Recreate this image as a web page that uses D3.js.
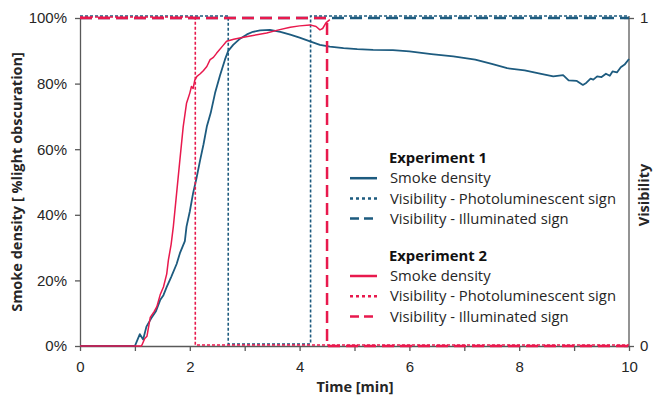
<!DOCTYPE html>
<html>
<head>
<meta charset="utf-8">
<script src="https://cdnjs.cloudflare.com/ajax/libs/d3/7.8.5/d3.min.js"></script>
<style>
  body { margin: 0; background: #fff; }
  svg { display: block; font-family: "Open Sans", "Noto Sans", sans-serif; }
</style>
</head>
<body>
<svg id="chart" width="654" height="401"></svg>
<script>
// ----- data -----
var smoke1_t = [0,1.0,1.05,1.09,1.15,1.21,1.3,1.38,1.46,1.52,1.58,1.66,1.76,1.82,1.91,1.94,2.0,2.06,2.12,2.19,2.25,2.31,2.38,2.46,2.55,2.64,2.7,2.79,2.9,3.04,3.15,3.28,3.46,3.65,3.83,4.0,4.19,4.37,4.55,4.8,5.05,5.34,5.7,6.0,6.4,6.8,7.2,7.5,7.78,8.1,8.4,8.62,8.8,8.9,9.05,9.16,9.22,9.3,9.35,9.42,9.5,9.58,9.65,9.7,9.78,9.85,9.92,10];
var smoke1_v = [0,0,2,3.6,2.0,5.9,8.5,10.5,14,15.5,18,21,25,28.3,32,36.4,41,46.6,51,56.8,61.5,66.9,71,77.1,82.5,87.3,90,91.8,93.5,95,95.8,96.2,96.4,95.8,94.9,94,92.9,91.8,91.3,90.8,90.5,90.3,90.2,89.8,89,88.3,87.3,86,84.7,84,83,82.2,82.6,81,80.8,79.6,80.2,81.5,81.2,82.2,82,83,82.4,83.7,83.4,85,85.8,87.5];

var smoke2_t = [0,1.12,1.18,1.22,1.28,1.35,1.4,1.46,1.52,1.58,1.61,1.66,1.7,1.76,1.82,1.88,1.94,1.97,2.0,2.03,2.06,2.09,2.13,2.19,2.25,2.31,2.37,2.43,2.49,2.6,2.67,2.8,2.91,3.1,3.4,3.6,3.83,4.0,4.19,4.3,4.37,4.42,4.48,4.55];
var smoke2_v = [0,0,2.3,3,8.7,10.5,12,15.6,18,22,26.2,31,36.4,46.6,56.8,66.9,74,75.5,77.1,79.1,78.5,81,82.2,83,84,85.2,87.3,88,89.3,91.5,92.9,93.5,93.9,94.5,95.4,96.3,97.2,97.6,97.9,97.4,96.4,96.8,98.5,99.5];

// visibility steps (0 = not visible, 1 = visible)
var vis1Photo_t = [0,2.7,2.7,4.2,4.2,10];
var vis1Photo_v = [1,1,0,0,1,1];
var vis1Illum_t = [0,10];
var vis1Illum_v = [1,1];
var vis2Photo_t = [0,2.1,2.1,10];
var vis2Photo_v = [1,1,0,0];
var vis2Illum_t = [0,4.5,4.5,10];
var vis2Illum_v = [1,1,0,0];

var xTicks = [0,1,2,3,4,5,6,7,8,9,10];
var xLabels = [0,2,4,6,8,10];
var yTicks = [0,20,40,60,80,100];

var blue = "#1d5b7f";
var red = "#e8194d";
var axisCol = "#595959";
var textCol = "#262626";

// ----- layout -----
var svg = d3.select("#chart");
var mLeft = 80, mRight = 629, mTop = 18, mBottom = 346;

var x = d3.scaleLinear().domain([0,10]).range([mLeft,mRight]);
var y = d3.scaleLinear().domain([0,100]).range([mBottom,mTop]);
var y2 = d3.scaleLinear().domain([0,1]).range([mBottom,mTop]);

function zip(t, v){ return t.map(function(d,i){ return [d, v[i]]; }); }

// ----- axes -----
var xAxis = svg.append("g").attr("transform","translate(0,"+mBottom+")")
  .call(d3.axisBottom(x).tickValues(xTicks).tickSize(5).tickFormat(function(d){ return xLabels.indexOf(d) >= 0 ? d : ""; }));
var yAxis = svg.append("g").attr("transform","translate("+mLeft+",0)")
  .call(d3.axisLeft(y).tickValues(yTicks).tickSize(5).tickFormat(function(d){ return d + "%"; }));
var y2Axis = svg.append("g").attr("transform","translate("+mRight+",0)")
  .call(d3.axisRight(y2).tickValues([0,1]).tickSize(5).tickFormat(d3.format("d")));

[xAxis, yAxis, y2Axis].forEach(function(g){
  g.select(".domain").attr("stroke", axisCol).attr("stroke-width", 1.3);
  g.selectAll(".tick line").attr("stroke", axisCol).attr("stroke-width", 1.3);
  g.selectAll("text").attr("fill", textCol).style("font-size","15px");
});
xAxis.select(".domain").attr("d","M"+mLeft+",0.5H"+mRight);
yAxis.select(".domain").attr("d","M0.5,"+mTop+"V"+mBottom);
y2Axis.select(".domain").attr("d","M0,16V"+mBottom);
y2Axis.selectAll(".tick line").attr("x1",-5);
xAxis.selectAll("text").attr("y",12).attr("dy","0.95em");
yAxis.selectAll("text").attr("x",-13);
y2Axis.selectAll("text").attr("x",11);

// ----- lines -----
var line = d3.line().x(function(d){ return x(d[0]); }).y(function(d){ return y(d[1]); });
var vline = d3.line().x(function(d){ return x(d[0]); }).y(function(d){ return y2(d[1]); });

var dotted = "3,2", dashed = "12,6";

function drawVis(t, v, col, dash, w, shift){
  svg.append("path").datum(zip(t,v)).attr("d", vline)
    .attr("transform","translate(0,"+shift+")")
    .attr("fill","none").attr("stroke",col).attr("stroke-width",w).attr("stroke-dasharray",dash);
}

drawVis(vis1Illum_t, vis1Illum_v, blue, dashed, 2.5, 0);
drawVis(vis1Photo_t, vis1Photo_v, blue, dotted, 1.6, -2);
svg.append("path").datum(zip(smoke1_t, smoke1_v)).attr("d", line)
  .attr("fill","none").attr("stroke",blue).attr("stroke-width",1.8).attr("stroke-linejoin","round");

drawVis(vis2Illum_t, vis2Illum_v, red, dashed, 2.5, 0);
drawVis(vis2Photo_t, vis2Photo_v, red, dotted, 1.6, -1);
svg.append("path").datum(zip(smoke2_t, smoke2_v)).attr("d", line)
  .attr("fill","none").attr("stroke",red).attr("stroke-width",1.5).attr("stroke-linejoin","round");

// ----- axis titles -----
svg.append("text").attr("x",355).attr("y",392).attr("text-anchor","middle")
  .attr("font-weight","bold").attr("fill",textCol).style("font-size","14.5px").text("Time [min]");
svg.append("text").attr("transform","translate(22,182) rotate(-90)").attr("text-anchor","middle")
  .attr("font-weight","bold").attr("fill",textCol).style("font-size","14.5px").text("Smoke density [ %light obscuration]");
svg.append("text").attr("transform","translate(649,195) rotate(-90)").attr("text-anchor","middle")
  .attr("font-weight","bold").attr("fill",textCol).style("font-size","14.5px").text("Visibility");

// ----- legend -----
var legendItems = [
  {head:"Experiment 1", col:blue},
  {label:"Smoke density", col:blue, dash:null, w:2.5},
  {label:"Visibility - Photoluminescent sign", col:blue, dash:"3,3", w:2.5},
  {label:"Visibility - Illuminated sign", col:blue, dash:"9,5", w:2.5},
  {gap:true},
  {head:"Experiment 2", col:red},
  {label:"Smoke density", col:red, dash:null, w:2.5},
  {label:"Visibility - Photoluminescent sign", col:red, dash:"3,3", w:2.5},
  {label:"Visibility - Illuminated sign", col:red, dash:"9,5", w:2.5}
];
var ly = 158;
legendItems.forEach(function(it){
  if (it.gap) { ly += 17; return; }
  if (it.head) {
    svg.append("text").attr("x",389).attr("y",ly).attr("dy","0.35em")
      .attr("font-weight","bold").attr("fill","#111").style("font-size","14.8px").text(it.head);
  } else {
    svg.append("line").attr("x1",350).attr("x2",377).attr("y1",ly).attr("y2",ly)
      .attr("stroke",it.col).attr("stroke-width",it.w).attr("stroke-dasharray",it.dash);
    svg.append("text").attr("x",390).attr("y",ly).attr("dy","0.35em")
      .attr("fill",textCol).style("font-size","14.8px").text(it.label);
  }
  ly += 20.2;
});
</script>
</body>
</html>
